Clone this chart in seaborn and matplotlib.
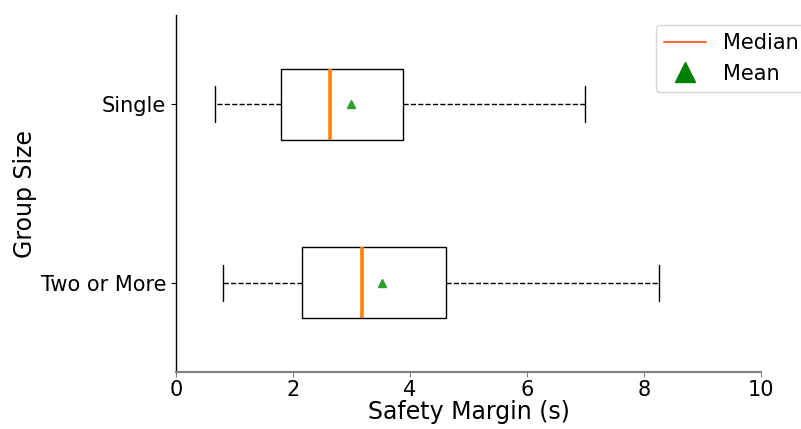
import matplotlib
matplotlib.use("Agg")
import matplotlib.pyplot as plt
import seaborn as sns
from matplotlib.lines import Line2D

# Summary statistics of safety margin (seconds) per group size
groups = ["Single", "Two or More"]
whisker_low = [0.66, 0.80]
q1 = [1.80, 2.16]
medians = [2.63, 3.18]
means = [2.99, 3.53]
q3 = [3.88, 4.62]
whisker_high = [6.99, 8.26]
x_ticks = [0, 2, 4, 6, 8, 10]

sns.set_style("ticks", {
    "axes.edgecolor": "black",
    "text.color": "black",
    "axes.labelcolor": "black",
    "xtick.color": "black",
    "ytick.color": "black",
})

fig = plt.figure(figsize=(8.01, 4.29), dpi=100)
ax = fig.add_axes([0.2197, 0.1329, 0.7303, 0.8321])

stats = [
    dict(label=g, whislo=lo, q1=a, med=m, mean=mu, q3=b, whishi=hi, fliers=[])
    for g, lo, a, m, mu, b, hi in zip(groups, whisker_low, q1, medians,
                                      means, q3, whisker_high)
]

ax.bxp(
    stats,
    positions=list(range(len(groups))),
    widths=0.4,
    orientation="horizontal",
    showmeans=True,
    patch_artist=True,
    boxprops=dict(facecolor="white", edgecolor="black", linewidth=1.0),
    medianprops=dict(color="#ff7f0e", linewidth=2.6),
    whiskerprops=dict(color="black", linestyle="--", linewidth=1.0),
    capprops=dict(color="black", linewidth=1.0),
    meanprops=dict(marker="^", markerfacecolor="#2ca02c",
                   markeredgecolor="#2ca02c", markersize=6),
)

ax.set_xlim(x_ticks[0], x_ticks[-1])
ax.set_xticks(x_ticks)
ax.set_ylim(1.5, -0.5)
ax.set_yticks(range(len(groups)))
ax.set_yticklabels(groups)

ax.set_xlabel("Safety Margin (s)", fontsize=17, labelpad=0)
ax.set_ylabel("Group Size", fontsize=17, labelpad=3)
ax.tick_params(axis="both", labelsize=15, length=3.5, width=0.8)
ax.tick_params(axis="x", color="#808080", pad=2.5)

sns.despine(ax=ax)
ax.spines["bottom"].set_color("#808080")
ax.spines["bottom"].set_linewidth(1.5)
ax.spines["left"].set_linewidth(1.0)

handles = [
    Line2D([0], [0], color="#ff6a3d", linewidth=1.5, label="Median"),
    Line2D([0], [0], color="green", marker="^", linestyle="None",
           markersize=15, label="Mean"),
]
fig.legend(
    handles=handles,
    loc="upper left",
    bbox_to_anchor=(656 / 801, 1 - 25 / 429),
    bbox_transform=fig.transFigure,
    borderaxespad=0,
    fontsize=15,
    frameon=True,
)

fig.savefig("out.png", dpi=100)
